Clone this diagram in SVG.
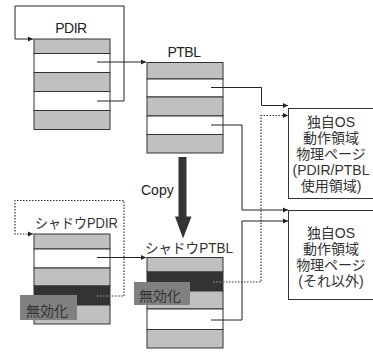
<svg xmlns="http://www.w3.org/2000/svg" width="373" height="352" viewBox="0 0 373 352">
<style>
.lat{font-family:"Liberation Sans",Arial,sans-serif;font-size:14px;fill:#222;}
.jp{font-family:"Liberation Sans","Noto Sans CJK JP",sans-serif;font-size:14px;fill:#333;}
.g{fill:#c0c0c0;stroke:#333;stroke-width:1;}
.w{fill:#fff;stroke:#333;stroke-width:1;}
.d{fill:#333;stroke:#333;stroke-width:1;}
.c{fill:none;stroke:#222;stroke-width:1;}
.dot{fill:none;stroke:#333;stroke-width:1.2;stroke-dasharray:1.5 1.5;}
.dotl{fill:none;stroke:#aaa;stroke-width:1.2;stroke-dasharray:1.5 1.5;}
.lbl{fill:#808080;}
.box{fill:#fff;stroke:#333;stroke-width:1;}
</style>
<defs>
<marker id="ah" markerWidth="6" markerHeight="6" refX="5" refY="3" orient="auto" markerUnits="userSpaceOnUse">
<path d="M0,0.5 L5,3 L0,5.5 Z" fill="#222"/>
</marker>
</defs>
<rect width="373" height="352" fill="#fff"/>

<g id="connectors">
<polyline class="c" points="97,101 124,101 124,6 15,6 15,39 33,39" marker-end="url(#ah)"/>
<polyline class="c" points="97,62 146,62" marker-end="url(#ah)"/>
<polyline class="c" points="211,87.5 261.5,87.5 261.5,105.5 288,105.5" marker-end="url(#ah)"/>
<polyline class="c" points="211,125 242,125 242,210 288,210" marker-end="url(#ah)"/>
<polyline class="dot" points="97,296 124,296 124,200.5 15,200.5 15,234 33,234" marker-end="url(#ah)"/>
<polyline class="c" points="97,257.5 146,257.5" marker-end="url(#ah)"/>
<polyline class="dot" points="223,282 261,282 261,115.5 288,115.5" marker-end="url(#ah)"/>
<polyline class="c" points="211,320 242,320 242,221 288,221" marker-end="url(#ah)"/>
</g>

<g id="pdir">
<rect class="g" x="34" y="39" width="76" height="14.5"/>
<rect class="w" x="34" y="53.5" width="76" height="19"/>
<rect class="g" x="34" y="72.5" width="76" height="19"/>
<rect class="w" x="34" y="91.5" width="76" height="19"/>
<rect class="g" x="34" y="110.5" width="76" height="19"/>
<text class="lat" x="71" y="33" text-anchor="middle" letter-spacing="-0.5">PDIR</text>
</g>
<g id="pdir-pointers">
<line class="c" x1="97" y1="62" x2="110" y2="62"/>
<line class="c" x1="97" y1="101" x2="110" y2="101"/>
</g>

<g id="ptbl">
<rect class="g" x="147" y="62.5" width="76" height="16.5"/>
<rect class="w" x="147" y="79" width="76" height="18"/>
<rect class="g" x="147" y="97" width="76" height="19"/>
<rect class="w" x="147" y="116" width="76" height="18.5"/>
<rect class="g" x="147" y="134.5" width="76" height="18.5"/>
<text class="lat" x="184" y="57" text-anchor="middle" letter-spacing="-0.5">PTBL</text>
<line class="c" x1="211" y1="87.5" x2="223" y2="87.5"/>
<line class="c" x1="211" y1="125" x2="223" y2="125"/>
</g>

<g id="copy">
<rect x="178.5" y="157" width="8" height="60" fill="#333"/>
<path d="M175,216.5 L191.5,216.5 L183,238.5 Z" fill="#333"/>
<text class="lat" x="141" y="195" font-size="13.5">Copy</text>
</g>

<g id="shadow-pdir">
<rect class="g" x="34" y="234" width="76" height="15"/>
<rect class="w" x="34" y="249" width="76" height="19"/>
<rect class="g" x="34" y="268" width="76" height="18"/>
<rect class="d" x="34" y="286" width="76" height="19"/>
<rect class="g" x="34" y="305" width="76" height="19"/>
<text class="jp" x="35" y="228" textLength="83" lengthAdjust="spacingAndGlyphs">シャドウPDIR</text>
<line class="c" x1="97" y1="257.5" x2="110" y2="257.5"/>
<line class="dotl" x1="97" y1="296" x2="110" y2="296"/>
<rect class="lbl" x="20" y="295" width="57" height="25"/>
<text class="jp" x="26" y="316" font-size="15">無効化</text>
</g>

<g id="shadow-ptbl">
<rect class="g" x="147" y="257.5" width="76" height="14.5"/>
<rect class="d" x="147" y="272" width="76" height="19"/>
<rect class="g" x="147" y="291" width="76" height="18"/>
<rect class="w" x="147" y="309" width="76" height="20.5"/>
<rect class="g" x="147" y="329.5" width="76" height="18.5"/>
<text class="jp" x="145" y="252.5" textLength="88" lengthAdjust="spacingAndGlyphs">シャドウPTBL</text>
<line class="dotl" x1="213" y1="282" x2="223" y2="282"/>
<line class="c" x1="211" y1="320" x2="223" y2="320"/>
<rect class="lbl" x="134" y="282" width="56" height="23"/>
<text class="jp" x="139" y="301" font-size="15">無効化</text>
</g>

<g id="os-area-1">
<rect class="box" x="288.5" y="108.5" width="90" height="90"/>
<text class="jp" x="331" text-anchor="middle" font-size="14.5"><tspan x="331" y="127">独自OS</tspan><tspan x="331" y="143">動作領域</tspan><tspan x="331" y="159">物理ページ</tspan><tspan x="331" y="175">(PDIR/PTBL</tspan><tspan x="331" y="191">使用領域)</tspan></text>
</g>

<g id="os-area-2">
<rect class="box" x="288.5" y="210.5" width="90" height="89"/>
<text class="jp" x="331" text-anchor="middle" font-size="14.5"><tspan x="331" y="238">独自OS</tspan><tspan x="331" y="254">動作領域</tspan><tspan x="331" y="270">物理ページ</tspan><tspan x="331" y="286">(それ以外)</tspan></text>
</g>
</svg>
